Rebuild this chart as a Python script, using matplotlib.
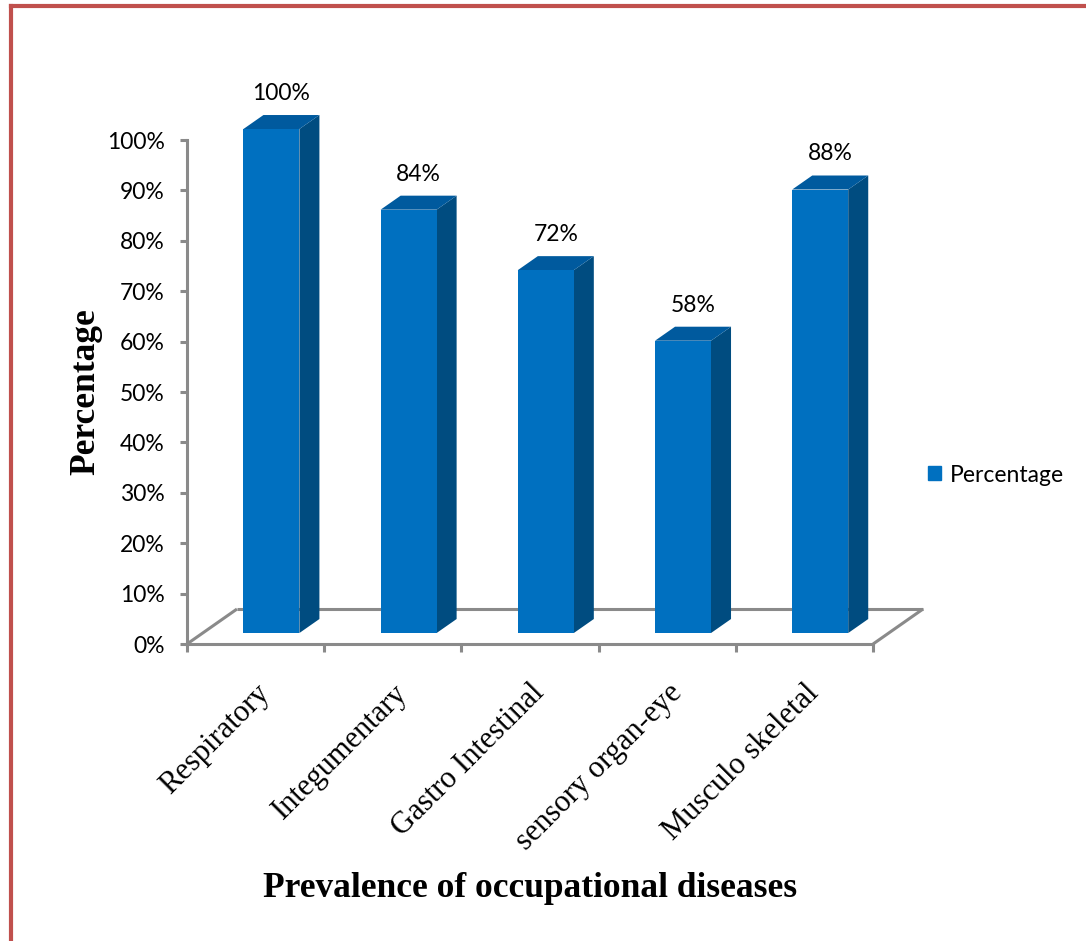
import matplotlib
matplotlib.use("Agg")
from matplotlib import pyplot as plt
from matplotlib.patches import Polygon, Patch
from matplotlib.lines import Line2D

categories = ["Respiratory", "Integumentary", "Gastro Intestinal",
              "sensory organ-eye", "Musculo skeletal"]
percentage = [100, 84, 72, 58, 88]
y_ticks = [0, 10, 20, 30, 40, 50, 60, 70, 80, 90, 100]
y_tick_labels = [str(t) + "%" for t in y_ticks]

front_color = "#0070C0"
side_color = "#004C80"
top_color = "#005A9E"
axis_gray = "#8A8A8A"
frame_red = "#C0504D"

# depth of the fake 3d floor and bars (x in category units, y in percent)
floor_dx, floor_dy = 0.364, 6.94
bar_fx, bar_fy = 0.115, 2.18
bar_dx, bar_dy = 0.146, 2.78
half_w = 0.204

fig = plt.figure(figsize=(10.86, 9.41), dpi=100)
ax = fig.add_axes([0.1722, 0.3156, 0.6317, 0.5356])
ax.set_xlim(-0.5, len(categories) - 0.5)
ax.set_ylim(0, 100)

for s in ["top", "right"]:
    ax.spines[s].set_visible(False)
for s in ["left", "bottom"]:
    ax.spines[s].set_color(axis_gray)
    ax.spines[s].set_linewidth(2.2)

# floor outline behind the bars
left = -0.5
right = len(categories) - 0.5
floor = [
    [(left, 0), (left + floor_dx, floor_dy)],
    [(left + floor_dx, floor_dy), (right + floor_dx, floor_dy)],
    [(right, 0), (right + floor_dx, floor_dy)],
]
for seg in floor:
    xs = [p[0] for p in seg]
    ys = [p[1] for p in seg]
    ax.plot(xs, ys, color=axis_gray, lw=2.2, clip_on=False, zorder=1,
            solid_capstyle="butt")

for i, v in enumerate(percentage):
    x0 = i + bar_fx - half_w
    x1 = i + bar_fx + half_w
    y0 = bar_fy
    y1 = bar_fy + v
    front = Polygon([(x0, y0), (x1, y0), (x1, y1), (x0, y1)],
                    closed=True, fc=front_color, ec="none", zorder=3, clip_on=False)
    side = Polygon([(x1, y0), (x1 + bar_dx, y0 + bar_dy),
                    (x1 + bar_dx, y1 + bar_dy), (x1, y1)],
                   closed=True, fc=side_color, ec="none", zorder=3, clip_on=False)
    top = Polygon([(x0, y1), (x0 + bar_dx, y1 + bar_dy),
                   (x1 + bar_dx, y1 + bar_dy), (x1, y1)],
                  closed=True, fc=top_color, ec="none", zorder=3, clip_on=False)
    ax.add_patch(side)
    ax.add_patch(top)
    ax.add_patch(front)
    ax.annotate(str(v) + "%", (i + bar_fx + bar_dx / 2, y1 + bar_dy),
                xytext=(0, 8), textcoords="offset points",
                ha="center", va="bottom", fontsize=16.5, family="Lato",
                annotation_clip=False)

ax.set_yticks(y_ticks)
ax.set_yticklabels(y_tick_labels, family="Lato", fontsize=16.5)
ax.tick_params(axis="y", direction="out", length=5, width=2.2,
               color=axis_gray, pad=11)

ax.set_xticks([i - 0.5 for i in range(len(categories) + 1)])
ax.set_xticklabels([])
ax.tick_params(axis="x", which="major", direction="out", length=6,
               width=2.2, color=axis_gray)
ax.set_xticks(range(len(categories)), minor=True)
ax.set_xticklabels(categories, minor=True, rotation=45, ha="right",
                   va="top", rotation_mode="anchor",
                   family="Liberation Serif", fontsize=22)
ax.tick_params(axis="x", which="minor", length=0, pad=25)

ax.set_ylabel("Percentage", family="Liberation Serif", fontweight="bold",
              fontsize=25.5)
ax.yaxis.set_label_coords(-0.123, 0.5)
ax.set_xlabel("Prevalence of occupational diseases", family="Liberation Serif",
              fontweight="bold", fontsize=25.5)
ax.xaxis.set_label_coords(0.5, -0.452)

fig.legend(handles=[Patch(color=front_color, label="Percentage")],
           loc="center left", bbox_to_anchor=(928 / 1086, 1 - 475 / 941),
           frameon=False, handlelength=0.55, handleheight=0.55,
           handletextpad=0.4, borderaxespad=0, borderpad=0,
           prop={"family": "Lato", "size": 16.5})

# red page frame
fig.add_artist(Line2D([10.5 / 1086, 1], [1 - 5.5 / 941, 1 - 5.5 / 941],
                      color=frame_red, lw=3, transform=fig.transFigure))
fig.add_artist(Line2D([10.5 / 1086, 10.5 / 1086], [0, 1 - 5.5 / 941],
                      color=frame_red, lw=3, transform=fig.transFigure))

fig.savefig("out.png", dpi=100)
